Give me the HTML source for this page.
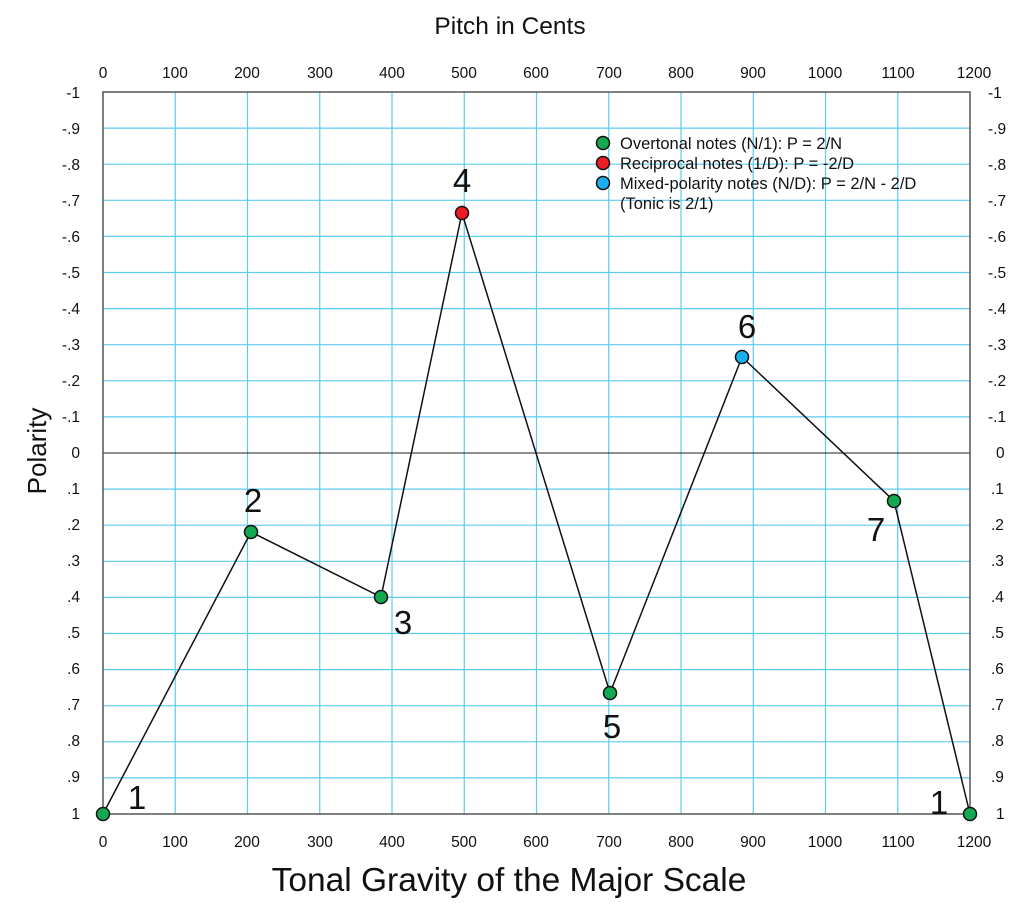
<!DOCTYPE html>
<html><head><meta charset="utf-8"><style>body{margin:0;background:#fff}</style></head><body>
<svg width="1024" height="907" xmlns="http://www.w3.org/2000/svg" font-family="Liberation Sans, sans-serif">
<rect width="1024" height="907" fill="#fff"/>
<g stroke="#5ccbf2" stroke-width="1.2">
<line x1="175.25" y1="92" x2="175.25" y2="814"/><line x1="247.5" y1="92" x2="247.5" y2="814"/><line x1="319.75" y1="92" x2="319.75" y2="814"/><line x1="392" y1="92" x2="392" y2="814"/><line x1="464.25" y1="92" x2="464.25" y2="814"/><line x1="536.5" y1="92" x2="536.5" y2="814"/><line x1="608.75" y1="92" x2="608.75" y2="814"/><line x1="681" y1="92" x2="681" y2="814"/><line x1="753.25" y1="92" x2="753.25" y2="814"/><line x1="825.5" y1="92" x2="825.5" y2="814"/><line x1="897.75" y1="92" x2="897.75" y2="814"/>
<line x1="103" y1="128.1" x2="970" y2="128.1"/><line x1="103" y1="164.2" x2="970" y2="164.2"/><line x1="103" y1="200.3" x2="970" y2="200.3"/><line x1="103" y1="236.4" x2="970" y2="236.4"/><line x1="103" y1="272.5" x2="970" y2="272.5"/><line x1="103" y1="308.6" x2="970" y2="308.6"/><line x1="103" y1="344.7" x2="970" y2="344.7"/><line x1="103" y1="380.8" x2="970" y2="380.8"/><line x1="103" y1="416.9" x2="970" y2="416.9"/><line x1="103" y1="489.1" x2="970" y2="489.1"/><line x1="103" y1="525.2" x2="970" y2="525.2"/><line x1="103" y1="561.3" x2="970" y2="561.3"/><line x1="103" y1="597.4" x2="970" y2="597.4"/><line x1="103" y1="633.5" x2="970" y2="633.5"/><line x1="103" y1="669.6" x2="970" y2="669.6"/><line x1="103" y1="705.7" x2="970" y2="705.7"/><line x1="103" y1="741.8" x2="970" y2="741.8"/><line x1="103" y1="777.9" x2="970" y2="777.9"/>
</g>
<line x1="103" y1="453" x2="970" y2="453" stroke="#222" stroke-width="1"/>
<rect x="103" y="92" width="867" height="722" fill="none" stroke="#555" stroke-width="1.5"/>
<g font-size="15.5" fill="#111" text-anchor="middle">
<text x="103" y="78">0</text><text x="175" y="78">100</text><text x="247" y="78">200</text><text x="320" y="78">300</text><text x="392" y="78">400</text><text x="464" y="78">500</text><text x="536" y="78">600</text><text x="609" y="78">700</text><text x="681" y="78">800</text><text x="753" y="78">900</text><text x="825" y="78">1000</text><text x="898" y="78">1100</text><text x="974" y="78">1200</text>
<text x="103" y="847">0</text><text x="175" y="847">100</text><text x="247" y="847">200</text><text x="320" y="847">300</text><text x="392" y="847">400</text><text x="464" y="847">500</text><text x="536" y="847">600</text><text x="609" y="847">700</text><text x="681" y="847">800</text><text x="753" y="847">900</text><text x="825" y="847">1000</text><text x="898" y="847">1100</text><text x="974" y="847">1200</text>
</g>
<g font-size="15.5" fill="#111" text-anchor="end">
<text x="80" y="98">-1</text><text x="80" y="134">-.9</text><text x="80" y="170">-.8</text><text x="80" y="206">-.7</text><text x="80" y="242">-.6</text><text x="80" y="278">-.5</text><text x="80" y="314">-.4</text><text x="80" y="350">-.3</text><text x="80" y="386">-.2</text><text x="80" y="422">-.1</text><text x="80" y="458">0</text><text x="80" y="494">.1</text><text x="80" y="530">.2</text><text x="80" y="566">.3</text><text x="80" y="602">.4</text><text x="80" y="638">.5</text><text x="80" y="674">.6</text><text x="80" y="710">.7</text><text x="80" y="746">.8</text><text x="80" y="782">.9</text><text x="80" y="819">1</text>
</g>
<g font-size="15.5" fill="#111" text-anchor="start">
<text x="988" y="98">-1</text><text x="988" y="134">-.9</text><text x="988" y="170">-.8</text><text x="988" y="206">-.7</text><text x="988" y="242">-.6</text><text x="988" y="278">-.5</text><text x="988" y="314">-.4</text><text x="988" y="350">-.3</text><text x="988" y="386">-.2</text><text x="988" y="422">-.1</text><text x="996" y="458">0</text><text x="991" y="494">.1</text><text x="991" y="530">.2</text><text x="991" y="566">.3</text><text x="991" y="602">.4</text><text x="991" y="638">.5</text><text x="991" y="674">.6</text><text x="991" y="710">.7</text><text x="991" y="746">.8</text><text x="991" y="782">.9</text><text x="996" y="819">1</text>
</g>
<text x="510" y="34" font-size="24.5" text-anchor="middle" fill="#111">Pitch in Cents</text>
<text x="509" y="891" font-size="33.5" text-anchor="middle" fill="#111">Tonal Gravity of the Major Scale</text>
<text transform="translate(46,451) rotate(-90)" font-size="26" text-anchor="middle" fill="#111">Polarity</text>
<polyline points="103,814 251,532 381,597 462,213 610,693 742,357 894,501 970,814" fill="none" stroke="#111" stroke-width="1.5"/>
<g stroke="#111" stroke-width="1.5">
<circle cx="103" cy="814" r="6.5" fill="#14a850"/><circle cx="251" cy="532" r="6.5" fill="#14a850"/><circle cx="381" cy="597" r="6.5" fill="#14a850"/><circle cx="462" cy="213" r="6.5" fill="#ee1c24"/><circle cx="610" cy="693" r="6.5" fill="#14a850"/><circle cx="742" cy="357" r="6.5" fill="#1ab0ef"/><circle cx="894" cy="501" r="6.5" fill="#14a850"/><circle cx="970" cy="814" r="6.5" fill="#14a850"/>
<circle cx="603" cy="143" r="6.5" fill="#14a850"/><circle cx="603" cy="163" r="6.5" fill="#ee1c24"/><circle cx="603" cy="183" r="6.5" fill="#1ab0ef"/>
</g>
<g font-size="16.5" fill="#111">
<text x="620" y="149">Overtonal notes (N/1): P = 2/N</text>
<text x="620" y="169">Reciprocal notes (1/D): P = -2/D</text>
<text x="620" y="189">Mixed-polarity notes (N/D): P = 2/N - 2/D</text>
<text x="620" y="209">(Tonic is 2/1)</text>
</g>
<g font-size="33" fill="#111" text-anchor="middle">
<text x="137" y="809">1</text><text x="253" y="512">2</text><text x="403" y="634">3</text><text x="462" y="192">4</text><text x="612" y="738">5</text><text x="747" y="338">6</text><text x="876" y="541">7</text><text x="939" y="814">1</text>
</g>
</svg>
</body></html>
